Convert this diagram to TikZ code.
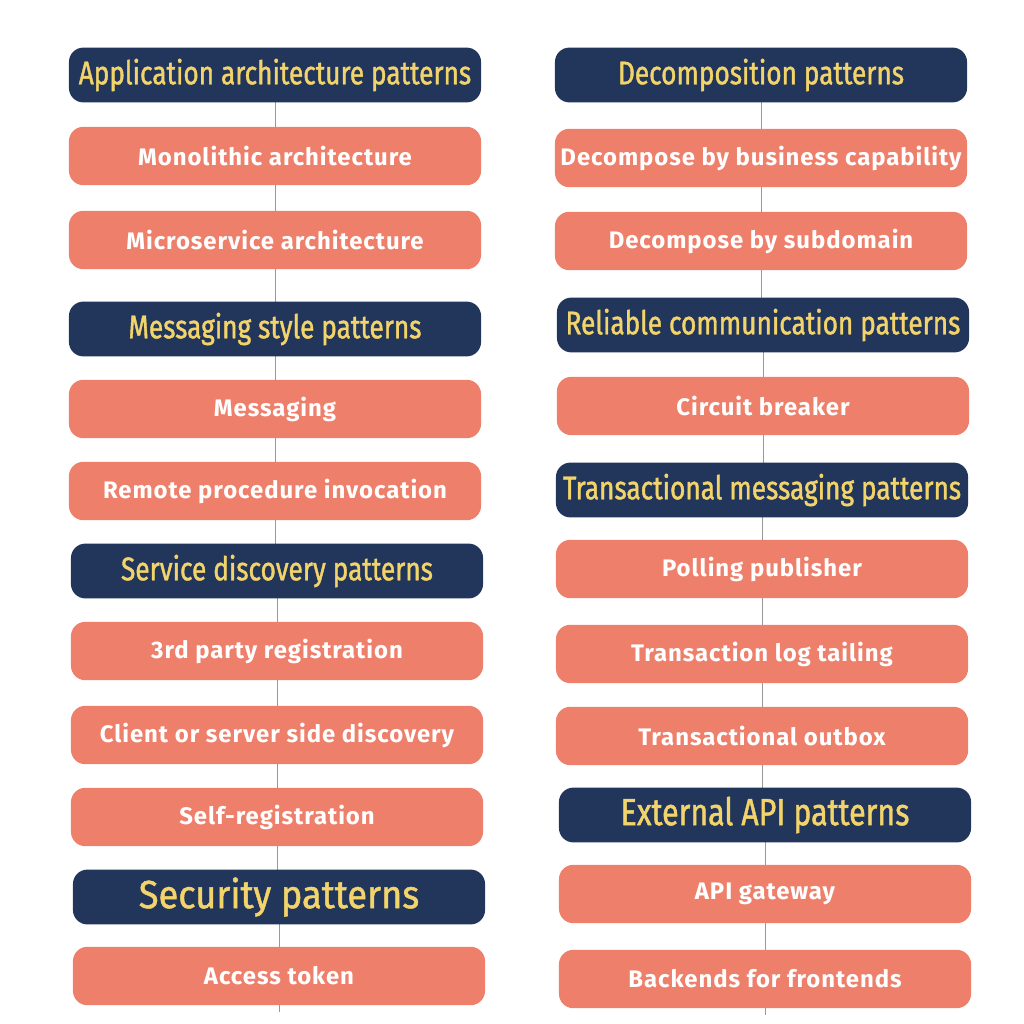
\documentclass[tikz,border=0pt]{standalone}
\usepackage{fontspec}
\setmainfont{Fira Sans}
\newfontfamily\headfont[FakeStretch=0.80, FakeBold=1.2]{Fira Sans}
\newfontfamily\widehead[FakeStretch=0.92, FakeBold=1.2]{Fira Sans}
\newfontfamily\itemfont[LetterSpace=4]{Fira Sans}
\definecolor{navy}{HTML}{22355A}
\definecolor{salmon}{HTML}{EE7F6B}
\definecolor{gold}{HTML}{F2D46B}
\usetikzlibrary{backgrounds}

\begin{document}
\begin{tikzpicture}[x=0.025cm, y=-0.025cm,
  hd/.style={rectangle, rounded corners=0.36cm, fill=navy, text=gold, minimum width=10.3cm, minimum height=1.37cm, inner sep=0pt, font=\headfont\fontsize{23.3}{26}\selectfont},
  it/.style={rectangle, rounded corners=0.36cm, fill=salmon, text=white, minimum width=10.3cm, minimum height=1.46cm, inner sep=0pt, font=\itemfont\bfseries\fontsize{17}{20}\selectfont},
  link/.style={gray!80, line width=0.6pt}]
\useasboundingbox (0,0) rectangle (1024,1024);
% left column
\node[hd] (app) at (275,75) {Application architecture patterns};
\node[it] (mono) at (275,156) {Monolithic architecture};
\node[it] (micro) at (275,240) {Microservice architecture};
\node[hd] (msg) at (275,329) {Messaging style patterns};
\node[it] (mess) at (275,409) {Messaging};
\node[it] (rpi) at (275,491) {Remote procedure invocation};
\node[hd] (disc) at (277,571) {Service discovery patterns};
\node[it] (third) at (277,651) {3rd party registration};
\node[it] (csd) at (277,735) {Client or server side discovery};
\node[it] (self) at (277,817) {Self-registration};
\node[hd, font=\widehead\fontsize{28}{31}\selectfont] (sec) at (279,897) {Security patterns};
\node[it] (tok) at (279,976) {Access token};
\coordinate (lend) at (279,1012);
% right column
\node[hd] (dec) at (761,75) {Decomposition patterns};
\node[it] (bcap) at (761,158) {Decompose by business capability};
\node[it] (sub) at (761,241) {Decompose by subdomain};
\node[hd] (rel) at (763,325) {Reliable communication patterns};
\node[it] (cb) at (763,406) {Circuit breaker};
\node[hd] (tm) at (762,490) {Transactional messaging patterns};
\node[it] (poll) at (762,569) {Polling publisher};
\node[it] (tlog) at (762,654) {Transaction log tailing};
\node[it] (obox) at (762,736) {Transactional outbox};
\node[hd, font=\headfont\fontsize{27}{30}\selectfont] (ext) at (765,815) {External API patterns};
\node[it] (gw) at (765,894) {API gateway};
\node[it] (bff) at (765,979) {Backends for frontends};
\coordinate (rend) at (765,1015);
% spines, kept straight down from each box
\begin{scope}[on background layer]
\foreach \a/\b in {app/mono, mono/micro, micro/msg, msg/mess, mess/rpi, rpi/disc, disc/third, third/csd, csd/self, self/sec, sec/tok, tok/lend,
  dec/bcap, bcap/sub, sub/rel, rel/cb, cb/tm, tm/poll, poll/tlog, tlog/obox, obox/ext, ext/gw, gw/bff, bff/rend}
  \draw[link] (\a.center) -- (\a.center |- \b);
\end{scope}
\end{tikzpicture}
\end{document}
